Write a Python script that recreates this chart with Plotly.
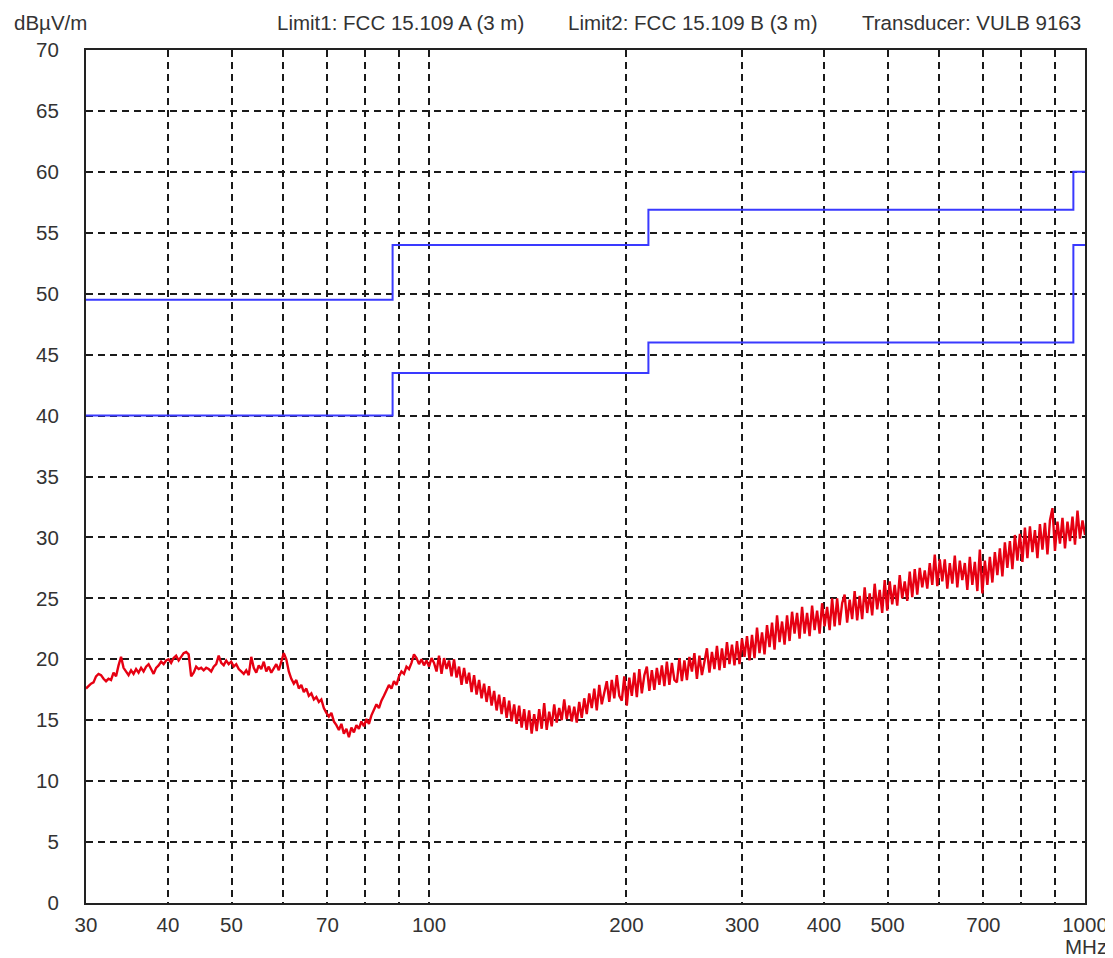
import numpy as np
import plotly.graph_objects as go

# ---- data ----
SWEEP_START_MHZ = 30
SWEEP_STOP_MHZ = 1000
level_dbuv = [
    17.6, 17.8, 18.0, 18.1, 18.6, 18.8, 18.7, 18.4, 18.2, 18.4, 18.3, 18.9, 18.6, 19.5, 20.2, 19.3, 19.0, 18.7, 19.1, 18.8,
    19.2, 18.9, 19.3, 19.0, 19.4, 19.6, 19.2, 18.8, 19.3, 19.5, 19.8, 19.6, 19.9, 20.0, 19.7, 20.1, 20.3, 19.9, 20.2, 20.5,
    20.6, 20.4, 18.6, 18.9, 19.4, 19.2, 19.3, 19.1, 19.3, 19.2, 19.0, 19.4, 19.6, 20.3, 19.7, 19.5, 19.9, 19.6, 19.8, 19.4,
    19.6, 19.2, 19.0, 18.8, 19.1, 18.7, 20.2, 19.3, 18.9, 19.5, 19.2, 19.8, 19.0, 19.4, 18.9, 19.3, 19.6, 19.1, 19.9, 20.5,
    20.0, 19.0, 18.4, 18.0, 18.3, 17.6, 17.9, 17.3, 17.6, 17.0, 17.2, 16.7, 16.9, 16.5, 16.7, 16.0, 15.6, 15.3, 15.6, 14.9,
    14.6, 14.2, 14.7, 13.9, 14.3, 13.6, 14.4, 14.0, 14.6, 14.3, 14.9, 14.5, 15.1, 14.7, 15.4, 15.8, 16.3, 16.0, 16.6, 17.0,
    17.4, 17.9, 17.6, 18.2, 17.9, 18.6, 19.0, 18.8, 19.4, 19.2, 19.7, 20.4, 20.1, 19.6, 20.0, 19.5, 19.9, 19.4, 20.1, 19.7,
    19.0, 20.3, 18.8, 20.1, 19.2, 19.9, 18.6, 20.0, 18.5, 19.4, 17.9, 19.3, 18.0, 18.9, 17.3, 18.7, 17.1, 18.3, 16.8, 18.0,
    16.5, 17.8, 16.2, 17.4, 15.8, 17.1, 15.5, 16.9, 15.2, 16.6, 14.9, 16.3, 14.7, 16.2, 14.4, 15.9, 14.2, 15.8, 13.9, 15.5,
    14.1, 15.9, 14.3, 16.4, 14.2, 15.7, 14.5, 16.3, 14.8, 16.0, 15.0, 16.7, 15.1, 16.2, 14.9, 16.1, 14.8, 16.5, 15.2, 16.8,
    15.5, 17.2, 16.0, 17.6, 15.8, 17.9, 16.3, 17.3, 18.2, 16.5, 18.3, 16.8, 18.7, 17.0, 16.6, 18.6, 16.2, 18.5, 17.0, 18.9,
    16.9, 19.2, 17.2, 18.7, 19.4, 17.4, 19.1, 17.5, 19.3, 17.9, 19.5, 17.8, 19.8, 17.9, 19.7, 18.3, 18.1, 20.1, 18.2, 19.9,
    18.3, 20.2, 19.0, 20.5, 18.4, 20.3, 18.7, 19.8, 20.9, 18.9, 20.6, 19.2, 21.1, 19.1, 20.9, 19.3, 21.4, 19.6, 21.2, 19.5,
    21.5, 19.6, 21.7, 20.2, 21.9, 19.9, 22.0, 20.1, 22.6, 20.5, 22.2, 20.4, 22.8, 21.0, 23.0, 20.8, 23.6, 21.4, 23.1, 21.2,
    23.6, 21.5, 23.9, 22.1, 23.8, 21.7, 24.3, 22.1, 23.8, 21.9, 24.4, 22.4, 24.0, 22.1, 24.6, 22.7, 24.3, 22.4, 25.0, 22.7,
    25.0, 22.8, 24.6, 25.3, 23.0, 24.9, 23.3, 25.6, 23.2, 25.2, 23.3, 25.9, 23.8, 25.4, 23.6, 26.2, 24.1, 25.7, 23.8, 26.5,
    24.0, 26.4, 24.5, 26.1, 24.4, 26.9, 25.0, 26.4, 24.8, 27.2, 25.1, 27.4, 25.3, 27.5, 25.9, 27.3, 25.8, 27.9, 26.1, 28.6,
    26.0, 28.2, 26.4, 28.2, 25.8, 27.9, 26.2, 28.5, 25.9, 28.1, 26.5, 27.9, 25.7, 28.4, 26.1, 28.0, 25.6, 29.0, 25.4, 28.1,
    26.1, 28.4, 26.3, 28.8, 26.9, 29.1, 26.8, 29.6, 27.5, 29.7, 27.4, 30.2, 28.1, 30.3, 28.0, 30.8, 28.3, 30.9, 28.8, 30.6,
    28.3, 31.1, 29.0, 31.2, 28.6, 31.4, 32.4, 28.9, 31.3, 29.5, 31.6, 29.1, 31.3, 29.7, 31.7, 29.4, 32.2, 29.9, 31.4, 30.2,
]
freq_mhz = np.geomspace(SWEEP_START_MHZ, SWEEP_STOP_MHZ, len(level_dbuv))

limit_freq_mhz = [30, 88, 216, 960, 1000]
limit_a_dbuv = [49.5, 54.0, 56.9, 60.0, 60.0]
limit_b_dbuv = [40.0, 43.5, 46.0, 54.0, 54.0]

grid_freqs = [30, 40, 50, 60, 70, 80, 90, 100, 200, 300, 400, 500, 600, 700, 800, 900, 1000]
grid_labels = ["30", "40", "50", "", "70", "", "", "100", "200", "300", "400", "500", "", "700", "", "", "1000"]
y_ticks = list(range(0, 75, 5))

# ---- figure ----
FONT = "Liberation Sans, Arial, sans-serif"
TXT = "#333333"
FS = 20.5

fig = go.Figure()
fig.add_trace(go.Scatter(x=limit_freq_mhz, y=limit_a_dbuv, mode="lines", line_shape="hv",
                         line=dict(color="#3a3aff", width=2), hoverinfo="skip", showlegend=False))
fig.add_trace(go.Scatter(x=limit_freq_mhz, y=limit_b_dbuv, mode="lines", line_shape="hv",
                         line=dict(color="#3a3aff", width=2), hoverinfo="skip", showlegend=False))
fig.add_trace(go.Scatter(x=freq_mhz, y=level_dbuv, mode="lines",
                         line=dict(color="#e60012", width=2.4), showlegend=False))

# page geometry (the page body adds an 8px offset)
OFF = 8
PL, PR, PT, PB = 86, 1085, 50, 903          # plot area in page pixels
W, H = 1113, 958
pw, ph = PR - PL, PB - PT
ml, mt = PL - OFF, PT - OFF

fig.update_layout(
    width=W, height=H,
    margin=dict(l=ml, r=W - ml - pw, t=mt, b=H - mt - ph, pad=0),
    paper_bgcolor="white", plot_bgcolor="white",
    font=dict(family=FONT, size=FS, color=TXT),
    xaxis=dict(type="log", range=[np.log10(30), np.log10(1000)],
               tickmode="array", tickvals=grid_freqs, ticktext=grid_labels,
               showgrid=True, gridcolor="#1a1a1a", gridwidth=1.5, griddash="7px,5px",
               showline=True, linecolor="#222222", linewidth=2, mirror=True,
               ticks="", ticklabelstandoff=2, zeroline=False),
    yaxis=dict(range=[0, 70], tickmode="array", tickvals=y_ticks,
               showgrid=True, gridcolor="#1a1a1a", gridwidth=1.5, griddash="7px,5px",
               showline=True, linecolor="#222222", linewidth=2, mirror=True,
               ticks="", ticklabelstandoff=21, zeroline=False),
)

def px_x(p):
    return (p - PL) / pw

def px_y(p):
    return (PB - p) / ph

annos = [
    ("dBµV/m", 12, 22, "left"),
    ("Limit1: FCC 15.109 A (3 m)", 275, 22, "left"),
    ("Limit2: FCC 15.109 B (3 m)", 566, 22, "left"),
    ("Transducer: VULB 9163", 1083, 22, "right"),
    ("MHz", 1109, 946, "right"),
]
for text, x, y, anc in annos:
    fig.add_annotation(text=text, xref="paper", yref="paper", x=px_x(x), y=px_y(y),
                       xanchor=anc, yanchor="middle", showarrow=False,
                       font=dict(family=FONT, size=FS, color=TXT))

for x0, x1 in [(8, 553), (566, 1113)]:
    fig.add_shape(type="line", xref="paper", yref="paper",
                  x0=px_x(x0), x1=px_x(x1), y0=px_y(1), y1=px_y(1),
                  line=dict(color="#d0d0d0", width=2))

fig.write_html("out.html")
